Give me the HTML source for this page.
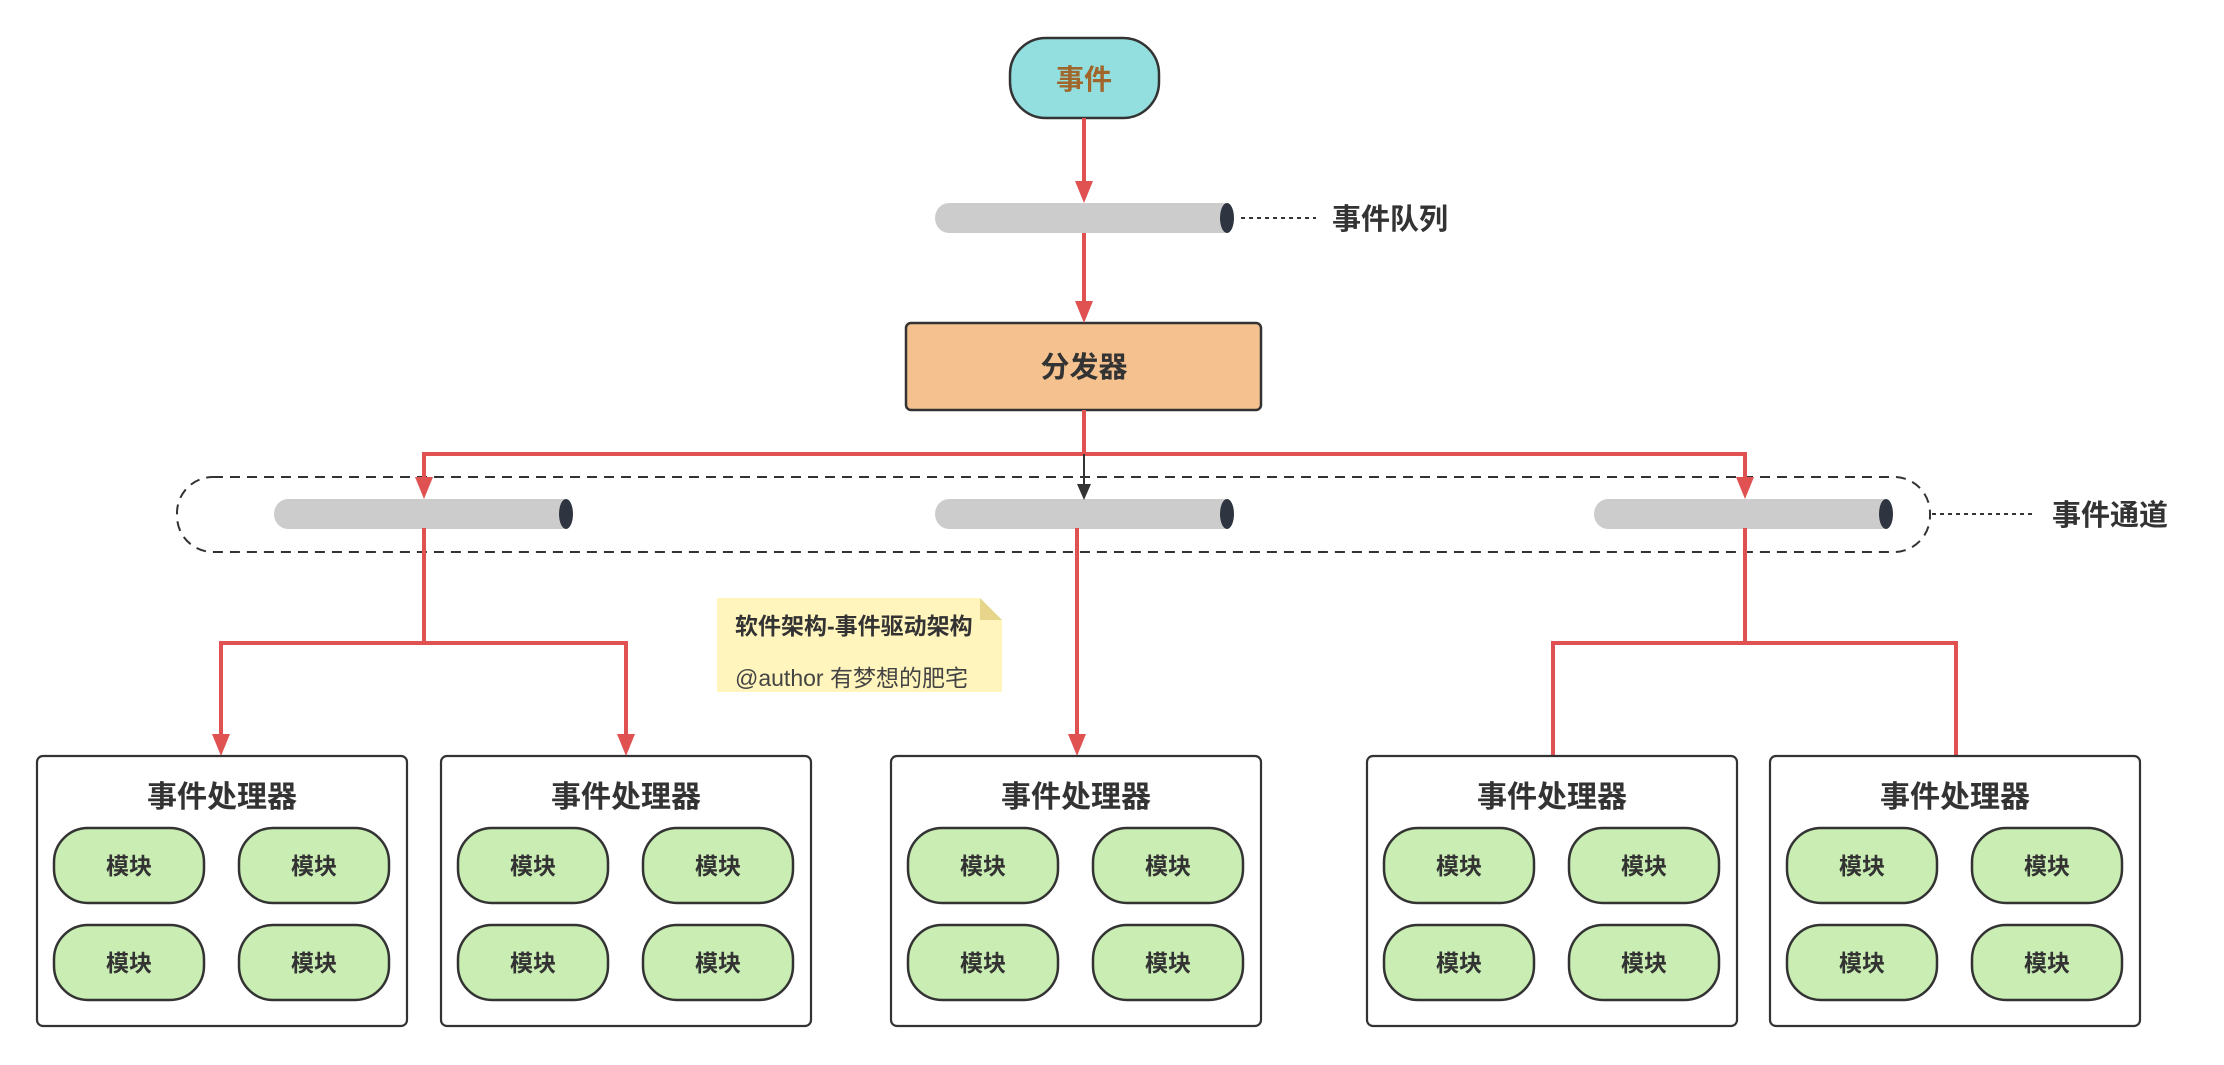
<!DOCTYPE html>
<html><head><meta charset="utf-8"><style>
html,body{margin:0;padding:0;background:#fff;}
svg{display:block;}
text{font-family:"Liberation Sans","Noto Sans CJK SC",sans-serif;}
</style></head><body>
<svg width="2224" height="1065" viewBox="0 0 2224 1065" xmlns="http://www.w3.org/2000/svg">
<defs>
<g id="cyl">
  <path d="M14,0 H290 V30 H14 A14,15 0 0 1 14,0 Z" fill="#cccccc"/>
  <ellipse cx="292" cy="15" rx="7" ry="15" fill="#2e3440"/>
</g>
<g id="handler">
  <rect x="0" y="0" width="370" height="270" rx="6" fill="#fff" stroke="#333" stroke-width="2.2"/>
  <text x="185" y="51" font-size="30" font-weight="bold" fill="#333" text-anchor="middle">事件处理器</text>
  <g stroke="#333" stroke-width="2.5" fill="#c9edb3">
    <rect x="17" y="72" width="150" height="75" rx="34"/>
    <rect x="202" y="72" width="150" height="75" rx="34"/>
    <rect x="17" y="169" width="150" height="75" rx="34"/>
    <rect x="202" y="169" width="150" height="75" rx="34"/>
  </g>
  <g font-size="23" font-weight="bold" fill="#333" text-anchor="middle">
    <text x="92" y="118">模块</text><text x="277" y="118">模块</text>
    <text x="92" y="215">模块</text><text x="277" y="215">模块</text>
  </g>
</g>
</defs>

<rect x="1010" y="38" width="149" height="80" rx="36" fill="#93dfe0" stroke="#333" stroke-width="2.5"/>
<text x="1084" y="89" font-size="28" font-weight="bold" fill="#a0662a" text-anchor="middle">事件</text>

<use href="#cyl" x="935" y="203"/>
<line x1="1241" y1="218" x2="1316" y2="218" stroke="#333" stroke-width="2" stroke-dasharray="4,4"/>
<text x="1332" y="229" font-size="29" font-weight="bold" fill="#333">事件队列</text>

<rect x="906" y="323" width="355" height="87" rx="5" fill="#f5c28f" stroke="#333" stroke-width="2.5"/>
<text x="1084" y="377" font-size="29" font-weight="bold" fill="#333" text-anchor="middle">分发器</text>

<rect x="177" y="477" width="1753" height="75" rx="36" fill="none" stroke="#333" stroke-width="2" stroke-dasharray="10,7"/>
<use href="#cyl" x="274" y="499"/>
<use href="#cyl" x="935" y="499"/>
<use href="#cyl" x="1594" y="499"/>
<line x1="1932" y1="514" x2="2035" y2="514" stroke="#333" stroke-width="2" stroke-dasharray="4,4"/>
<text x="2052" y="525" font-size="29" font-weight="bold" fill="#333">事件通道</text>

<g stroke="#e05252" stroke-width="4" fill="none">
  <line x1="1084" y1="118" x2="1084" y2="182"/>
  <line x1="1084" y1="233" x2="1084" y2="302"/>
  <polyline points="1084,410 1084,454"/>
  <polyline points="424,478 424,454 1745,454 1745,478"/>
  <polyline points="424,528 424,643 221,643 221,735"/>
  <polyline points="424,643 626,643 626,735"/>
  <line x1="1077" y1="528" x2="1077" y2="735"/>
  <polyline points="1553,756 1553,643 1956,643 1956,756"/>
  <line x1="1745" y1="528" x2="1745" y2="643"/>
</g>
<g fill="#e05252">
  <polygon points="1075,181 1093,181 1084,203"/>
  <polygon points="1075,301 1093,301 1084,323"/>
  <polygon points="415,477 433,477 424,499"/>
  <polygon points="1736,477 1754,477 1745,499"/>
  <polygon points="212,734 230,734 221,756"/>
  <polygon points="617,734 635,734 626,756"/>
  <polygon points="1068,734 1086,734 1077,756"/>
</g>
<line x1="1084" y1="454" x2="1084" y2="485" stroke="#333" stroke-width="2"/>
<polygon points="1077,484 1091,484 1084,500" fill="#333"/>

<path d="M717,598 H980 L1002,620 V692 H717 Z" fill="#fff5bd"/>
<path d="M980,598 L1002,620 H980 Z" fill="#e6d58a"/>
<text x="735" y="634" font-size="23" font-weight="bold" fill="#333">软件架构-事件驱动架构</text>
<text x="735" y="686" font-size="23" fill="#444">@author 有梦想的肥宅</text>

<use href="#handler" x="37" y="756"/>
<use href="#handler" x="441" y="756"/>
<use href="#handler" x="891" y="756"/>
<use href="#handler" x="1367" y="756"/>
<use href="#handler" x="1770" y="756"/>
</svg>
</body></html>
